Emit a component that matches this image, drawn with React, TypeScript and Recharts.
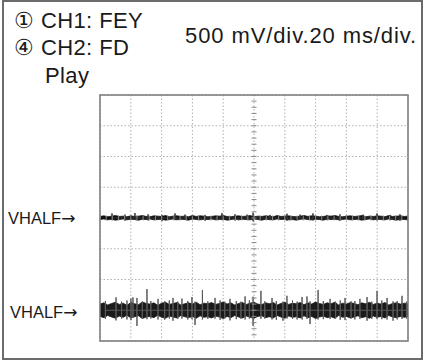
import React from 'react';
import {
  ComposedChart,
  Area,
  Line,
  Scatter,
  XAxis,
  YAxis,
  CartesianGrid,
  ReferenceArea,
} from 'recharts';

// Graticule: 10 horizontal divisions (20 ms/div), 8 vertical divisions
const timeTicks = [0, 20, 40, 60, 80, 100, 120, 140, 160, 180, 200];
const divTicks = [-4, -3, -2, -1, 0, 1, 2, 3, 4];

// CH1 (FEY) envelope, in divisions, sampled every 2.5 ms
const ch1Hi = [
  0.05, 0.07, 0.04, 0.06, 0.08, 0.05, 0.06, 0.04, 0.07, 0.05,
  0.06, 0.08, 0.05, 0.04, 0.07, 0.06, 0.05, 0.08, 0.04, 0.06,
  0.07, 0.05, 0.06, 0.04, 0.08, 0.05, 0.07, 0.06, 0.04, 0.05,
  0.07, 0.06, 0.08, 0.05, 0.04, 0.06, 0.07, 0.05, 0.06, 0.08,
  0.04, 0.06, 0.05, 0.07, 0.06, 0.04, 0.08, 0.05, 0.06, 0.07,
  0.05, 0.04, 0.06, 0.08, 0.05, 0.07, 0.06, 0.04, 0.05, 0.07,
  0.06, 0.08, 0.05, 0.04, 0.06, 0.07, 0.05, 0.06, 0.08, 0.04,
  0.06, 0.05, 0.07, 0.06, 0.04, 0.08, 0.05, 0.06, 0.07, 0.05,
  0.06,
];
const ch1Lo = [
  -0.05, -0.03, -0.06, -0.04, -0.07, -0.05, -0.03, -0.06, -0.04, -0.05,
  -0.07, -0.04, -0.05, -0.03, -0.06, -0.05, -0.04, -0.07, -0.05, -0.03,
  -0.06, -0.04, -0.05, -0.07, -0.03, -0.05, -0.06, -0.04, -0.05, -0.03,
  -0.06, -0.05, -0.04, -0.07, -0.05, -0.03, -0.06, -0.04, -0.05, -0.06,
  -0.03, -0.05, -0.07, -0.04, -0.05, -0.06, -0.03, -0.05, -0.04, -0.06,
  -0.05, -0.07, -0.04, -0.03, -0.05, -0.06, -0.04, -0.05, -0.07, -0.03,
  -0.05, -0.04, -0.06, -0.05, -0.03, -0.06, -0.05, -0.04, -0.07, -0.05,
  -0.03, -0.06, -0.04, -0.05, -0.06, -0.03, -0.05, -0.07, -0.04, -0.05,
  -0.06,
];

// CH2 (FD) envelope, in divisions (trace sits 3 div below centre)
const ch2Hi = [
  -2.80, -2.76, -2.83, -2.78, -2.74, -2.81, -2.77, -2.84, -2.75, -2.79,
  -2.82, -2.73, -2.78, -2.80, -2.76, -2.84, -2.77, -2.74, -2.81, -2.78,
  -2.75, -2.83, -2.79, -2.76, -2.80, -2.74, -2.82, -2.77, -2.79, -2.75,
  -2.81, -2.78, -2.73, -2.80, -2.76, -2.83, -2.78, -2.75, -2.81, -2.77,
  -2.74, -2.80, -2.82, -2.76, -2.79, -2.75, -2.83, -2.78, -2.74, -2.81,
  -2.77, -2.79, -2.75, -2.82, -2.76, -2.80, -2.73, -2.78, -2.81, -2.76,
  -2.79, -2.74, -2.83, -2.77, -2.80, -2.75, -2.78, -2.82, -2.76, -2.79,
  -2.74, -2.81, -2.77, -2.80, -2.75, -2.83, -2.78, -2.76, -2.80, -2.77,
  -2.79,
];
const ch2Lo = [
  -3.20, -3.24, -3.17, -3.22, -3.26, -3.19, -3.23, -3.16, -3.25, -3.21,
  -3.18, -3.27, -3.22, -3.20, -3.24, -3.16, -3.23, -3.26, -3.19, -3.22,
  -3.25, -3.17, -3.21, -3.24, -3.20, -3.26, -3.18, -3.23, -3.21, -3.25,
  -3.19, -3.22, -3.27, -3.20, -3.24, -3.17, -3.22, -3.25, -3.19, -3.23,
  -3.26, -3.20, -3.18, -3.24, -3.21, -3.25, -3.17, -3.22, -3.26, -3.19,
  -3.23, -3.21, -3.25, -3.18, -3.24, -3.20, -3.27, -3.22, -3.19, -3.24,
  -3.21, -3.26, -3.17, -3.23, -3.20, -3.25, -3.22, -3.18, -3.24, -3.21,
  -3.26, -3.19, -3.23, -3.20, -3.25, -3.17, -3.22, -3.24, -3.20, -3.23,
  -3.21,
];

// Noise spikes (ms, peak up, peak down)
const ch1SpikeT = [7.8, 16.2, 22.7, 31.2, 40.3, 48.7, 55.2, 68.2, 79.2, 87.7, 95.5, 99.4, 110.4, 121.4, 129.9, 138.3, 147.4, 155.8, 170.8, 179.9, 188.3, 194.8];
const ch1SpikeUp = [0.15, 0.11, 0.16, 0.12, 0.10, 0.15, 0.11, 0.10, 0.16, 0.12, 0.11, 0.17, 0.10, 0.14, 0.11, 0.15, 0.10, 0.12, 0.11, 0.15, 0.10, 0.12];
const ch1SpikeDown = [-0.07, -0.09, -0.06, -0.08, -0.10, -0.07, -0.06, -0.09, -0.07, -0.08, -0.06, -0.11, -0.07, -0.09, -0.06, -0.08, -0.07, -0.09, -0.06, -0.08, -0.07, -0.09];

const ch2SpikeT = [
  3.5, 10.4, 14.0, 17.5, 20.1, 21.4, 24.0, 27.5, 30.5, 33.0, 37.7, 42.0, 45.0, 47.4, 50.5, 53.2, 57.0, 59.7, 61.7, 66.5,
  70.0, 74.7, 78.0, 81.0, 84.4, 88.5, 91.5, 94.2, 97.0, 99.4, 104.5, 107.0, 111.7, 114.5, 118.8, 121.4, 125.0, 128.0, 131.2, 134.4,
  136.4, 141.6, 145.0, 149.4, 153.0, 156.0, 159.1, 163.0, 165.5, 168.8, 173.4, 176.5, 179.9, 183.0, 186.4, 190.3, 193.0, 196.1, 199.0,
];
const ch2SpikeUp = [
  -2.70, -2.58, -2.72, -2.68, -2.62, -2.58, -2.60, -2.72, -2.31, -2.70, -2.63, -2.71, -2.68, -2.60, -2.72, -2.62, -2.70, -2.57, -2.72, -2.34,
  -2.71, -2.60, -2.68, -2.72, -2.63, -2.70, -2.72, -2.55, -2.68, -2.56, -2.37, -2.71, -2.60, -2.70, -2.72, -2.53, -2.68, -2.72, -2.57, -2.55,
  -2.71, -2.34, -2.70, -2.63, -2.72, -2.68, -2.60, -2.71, -2.70, -2.63, -2.57, -2.72, -2.37, -2.68, -2.60, -2.71, -2.70, -2.53, -2.72,
];
const ch2SpikeDown = [
  -3.28, -3.33, -3.27, -3.30, -3.32, -3.25, -3.51, -3.28, -3.29, -3.27, -3.30, -3.31, -3.27, -3.34, -3.28, -3.27, -3.30, -3.29, -3.48, -3.30,
  -3.28, -3.27, -3.31, -3.27, -3.33, -3.29, -3.28, -3.30, -3.27, -3.51, -3.28, -3.27, -3.30, -3.31, -3.34, -3.27, -3.28, -3.30, -3.30, -3.28,
  -3.45, -3.30, -3.29, -3.28, -3.27, -3.31, -3.32, -3.27, -3.30, -3.28, -3.34, -3.28, -3.28, -3.29, -3.30, -3.34, -3.30, -3.28, -3.27,
];

// Minor graticule marks on the centre axes (1/5 division)
const minorV = Array.from({ length: 41 }, (_, i) => -4 + i * 0.2);
const minorT = Array.from({ length: 51 }, (_, i) => i * 4);

const bandData = ch1Hi.map((_, i) => ({
  t: i * 2.5,
  ch1: [ch1Lo[i], ch1Hi[i]],
  ch2: [ch2Lo[i], ch2Hi[i]],
}));

const spikePath = (ts: number[], ups: number[], downs: number[], base: number) =>
  ts
    .map((t, i) => ({ t, u: ups[i], d: downs[i] }))
    .sort((a, b) => a.t - b.t)
    .flatMap((s) => [
      { t: s.t, v: base },
      { t: s.t, v: s.u },
      { t: s.t, v: s.d },
      { t: s.t, v: base },
    ]);

const ch1Spikes = spikePath(ch1SpikeT, ch1SpikeUp, ch1SpikeDown, 0);
const ch2Spikes = spikePath(ch2SpikeT, ch2SpikeUp, ch2SpikeDown, -3);
const vMarks = minorV.map((v) => ({ t: 100, v }));
const hMarks = minorT.map((t) => ({ t, v: 0 }));

const HTick = (p: any) => (
  <line x1={p.cx - 2.5} x2={p.cx + 2.5} y1={p.cy} y2={p.cy} stroke="#8a8a8a" strokeWidth={1} />
);
const VTick = (p: any) => (
  <line x1={p.cx} x2={p.cx} y1={p.cy - 2.5} y2={p.cy + 2.5} stroke="#8a8a8a" strokeWidth={1} />
);

const textStyle: React.CSSProperties = {
  fontFamily: '"Liberation Sans", Arial, sans-serif',
  fill: '#1a1a1a',
};
const arrowFont = '"DejaVu Sans", sans-serif';

export default function App() {
  return (
    <div style={{ position: 'fixed', left: 0, top: 0, width: 425, height: 360, background: '#fff' }}>
      <ComposedChart
        width={425}
        height={360}
        data={bandData}
        margin={{ top: 95, right: 17, bottom: 19, left: 100 }}
      >
        <XAxis dataKey="t" type="number" domain={[0, 200]} ticks={timeTicks} hide allowDataOverflow />
        <YAxis type="number" domain={[-4, 4]} ticks={divTicks} hide allowDataOverflow />
        <CartesianGrid stroke="#b0b0b0" strokeDasharray="1.5 2" strokeWidth={1} />
        <Scatter data={vMarks} dataKey="v" shape={<HTick />} isAnimationActive={false} />
        <Scatter data={hMarks} dataKey="v" shape={<VTick />} isAnimationActive={false} />
        <Line data={ch1Spikes} dataKey="v" type="linear" stroke="#333" strokeWidth={1} dot={false} isAnimationActive={false} />
        <Area dataKey="ch1" type="linear" stroke="#111" strokeWidth={0.8} fill="#111" fillOpacity={1} isAnimationActive={false} />
        <Line data={ch2Spikes} dataKey="v" type="linear" stroke="#5a5a5a" strokeWidth={1} dot={false} isAnimationActive={false} />
        <Area dataKey="ch2" type="linear" stroke="#1a1a1a" strokeWidth={0.8} fill="#1a1a1a" fillOpacity={1} isAnimationActive={false} />
        <ReferenceArea x1={0} x2={200} y1={-4} y2={4} fill="none" stroke="#7a7a7a" strokeWidth={1.5} ifOverflow="visible" />
      </ComposedChart>
      <svg width={425} height={360} style={{ position: 'absolute', left: 0, top: 0, pointerEvents: 'none' }}>
        <text x={14} y={28} fontSize={22} letterSpacing={0.4} style={textStyle}>① CH1: FEY</text>
        <text x={14} y={55} fontSize={22} letterSpacing={0.4} style={textStyle}>④ CH2: FD</text>
        <text x={45} y={83} fontSize={22} letterSpacing={0.4} style={textStyle}>Play</text>
        <text x={185} y={43} fontSize={22} letterSpacing={0.9} style={textStyle}>500 mV/div.20 ms/div.</text>
        <text x={8} y={224} fontSize={16.5} style={textStyle}>
          VHALF<tspan fontFamily={arrowFont} fontSize={17}>→</tspan>
        </text>
        <text x={10} y={318} fontSize={16.5} style={textStyle}>
          VHALF<tspan fontFamily={arrowFont} fontSize={17}>→</tspan>
        </text>
      </svg>
      <div
        style={{
          position: 'absolute',
          left: 2,
          top: 0,
          width: 421,
          height: 360,
          boxSizing: 'border-box',
          border: '2px solid #6b6b6b',
          pointerEvents: 'none',
        }}
      />
    </div>
  );
}
